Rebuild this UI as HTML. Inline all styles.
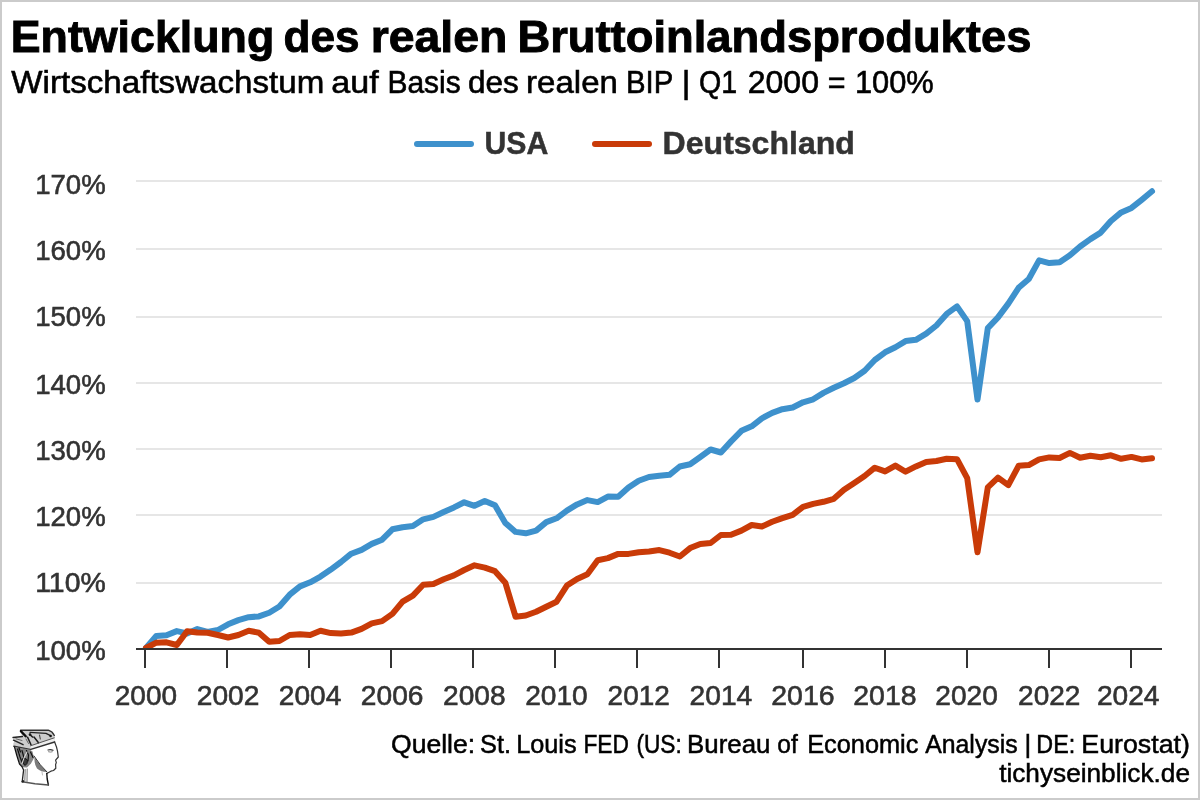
<!DOCTYPE html>
<html><head><meta charset="utf-8"><title>Entwicklung des realen Bruttoinlandsproduktes</title>
<style>
html,body{margin:0;padding:0;background:#fff;width:1200px;height:800px;overflow:hidden}
svg{display:block;will-change:transform}
text{font-family:"Liberation Sans",sans-serif}
.t{font-weight:bold;font-size:44.1px;fill:#000;stroke:#000;stroke-width:0.9px}
.st{font-size:31.7px;fill:#000;stroke:#000;stroke-width:0.6px}
.lg{font-weight:bold;font-size:31.8px;fill:#333;stroke:#333;stroke-width:0.5px}
.ax{font-size:27.7px;fill:#333;stroke:#333;stroke-width:0.6px}
.src{font-size:25.3px;fill:#000;stroke:#000;stroke-width:0.5px}
</style></head><body>
<svg width="1200" height="800" viewBox="0 0 1200 800">
<rect x="0" y="0" width="1200" height="800" fill="#cbcbcb"/>
<rect x="2" y="2" width="1196" height="796" fill="#ffffff"/>
<rect x="136" y="180" width="1026" height="2" fill="#e6e6e6"/>
<rect x="136" y="248" width="1026" height="2" fill="#e6e6e6"/>
<rect x="136" y="316" width="1026" height="2" fill="#e6e6e6"/>
<rect x="136" y="382" width="1026" height="2" fill="#e6e6e6"/>
<rect x="136" y="448" width="1026" height="2" fill="#e6e6e6"/>
<rect x="136" y="514" width="1026" height="2" fill="#e6e6e6"/>
<rect x="136" y="582" width="1026" height="2" fill="#e6e6e6"/>
<defs><clipPath id="pc"><rect x="100" y="100" width="1100" height="548"/></clipPath></defs>
<g clip-path="url(#pc)" fill="none" stroke-width="6" stroke-linejoin="round" stroke-linecap="round">
<polyline stroke="#3e91cc" points="146.0,648.0 156.3,635.9 166.5,635.2 176.8,631.1 187.1,633.4 197.3,629.1 207.6,631.9 217.9,630.0 228.1,624.3 238.4,620.1 248.7,617.2 258.9,616.4 269.2,612.7 279.4,606.5 289.7,594.7 300.0,586.4 310.2,582.3 320.5,576.6 330.8,569.6 341.0,562.0 351.3,553.7 361.6,549.9 371.8,543.9 382.1,539.7 392.4,529.3 402.6,527.2 412.9,526.1 423.2,519.3 433.4,516.9 443.7,512.0 454.0,507.4 464.2,502.3 474.5,505.8 484.8,501.0 495.0,505.3 505.3,523.0 515.6,531.9 525.8,533.3 536.1,530.6 546.3,522.1 556.6,518.3 566.9,510.6 577.1,504.4 587.4,500.1 597.7,502.1 607.9,496.6 618.2,496.8 628.5,487.6 638.7,480.7 649.0,477.0 659.3,475.7 669.5,474.8 679.8,466.5 690.1,464.2 700.3,457.0 710.6,449.5 720.9,452.5 731.1,441.4 741.4,430.8 751.7,426.3 761.9,418.3 772.2,412.8 782.4,409.2 792.7,407.5 803.0,402.3 813.2,399.3 823.5,392.9 833.8,387.8 844.0,383.2 854.3,378.0 864.6,370.7 874.8,360.0 885.1,352.3 895.4,347.2 905.6,341.1 915.9,339.8 926.2,333.7 936.4,325.5 946.7,313.9 957.0,306.4 967.2,321.1 977.5,399.6 987.8,328.1 998.0,317.4 1008.3,303.6 1018.6,287.8 1028.8,279.0 1039.1,260.4 1049.3,263.1 1059.6,262.3 1069.9,255.3 1080.1,246.5 1090.4,239.1 1100.7,232.6 1110.9,221.0 1121.2,212.4 1131.5,207.9 1141.7,199.8 1152.0,191.3"/>
<polyline stroke="#c93b08" points="146.0,648.0 156.3,642.7 166.5,642.3 176.8,645.0 187.1,631.2 197.3,632.5 207.6,632.7 217.9,635.0 228.1,637.5 238.4,635.0 248.7,630.8 258.9,632.7 269.2,641.7 279.4,641.0 289.7,635.0 300.0,634.2 310.2,635.0 320.5,630.8 330.8,633.1 341.0,633.5 351.3,632.6 361.6,628.9 371.8,623.4 382.1,621.1 392.4,613.9 402.6,601.7 412.9,595.6 423.2,584.8 433.4,583.9 443.7,579.2 454.0,575.4 464.2,570.0 474.5,565.3 484.8,567.7 495.0,571.2 505.3,582.7 515.6,616.8 525.8,615.5 536.1,611.8 546.3,606.7 556.6,601.7 566.9,585.6 577.1,578.9 587.4,574.2 597.7,560.2 607.9,558.1 618.2,553.9 628.5,553.9 638.7,552.2 649.0,551.4 659.3,550.1 669.5,552.7 679.8,556.5 690.1,548.1 700.3,543.9 710.6,543.0 720.9,535.0 731.1,534.8 741.4,530.6 751.7,525.0 761.9,526.5 772.2,521.8 782.4,518.1 792.7,514.8 803.0,506.8 813.2,503.9 823.5,501.8 833.8,498.8 844.0,489.8 854.3,483.0 864.6,476.0 874.8,467.7 885.1,471.4 895.4,465.6 905.6,471.7 915.9,466.4 926.2,461.9 936.4,461.0 946.7,458.8 957.0,459.2 967.2,478.2 977.5,552.3 987.8,487.4 998.0,477.6 1008.3,485.2 1018.6,465.8 1028.8,465.1 1039.1,459.4 1049.3,457.4 1059.6,458.0 1069.9,452.9 1080.1,457.8 1090.4,455.8 1100.7,457.2 1110.9,455.3 1121.2,458.8 1131.5,456.9 1141.7,459.4 1152.0,458.3"/>
</g>
<rect x="136" y="648" width="1026" height="2" fill="#333"/>
<rect x="144" y="650" width="2" height="18" fill="#333"/>
<text x="114.79" y="705.3" class="ax" textLength="62.30" lengthAdjust="spacingAndGlyphs">2000</text>
<rect x="226" y="650" width="2" height="18" fill="#333"/>
<text x="196.78" y="705.3" class="ax" textLength="62.63" lengthAdjust="spacingAndGlyphs">2002</text>
<rect x="308" y="650" width="2" height="18" fill="#333"/>
<text x="278.89" y="705.3" class="ax" textLength="62.43" lengthAdjust="spacingAndGlyphs">2004</text>
<rect x="390" y="650" width="2" height="18" fill="#333"/>
<text x="360.89" y="705.3" class="ax" textLength="62.55" lengthAdjust="spacingAndGlyphs">2006</text>
<rect x="472" y="650" width="2" height="18" fill="#333"/>
<text x="443.09" y="705.3" class="ax" textLength="62.54" lengthAdjust="spacingAndGlyphs">2008</text>
<rect x="554" y="650" width="2" height="18" fill="#333"/>
<text x="525.18" y="705.3" class="ax" textLength="62.62" lengthAdjust="spacingAndGlyphs">2010</text>
<rect x="636" y="650" width="2" height="18" fill="#333"/>
<text x="607.59" y="705.3" class="ax" textLength="62.21" lengthAdjust="spacingAndGlyphs">2012</text>
<rect x="718" y="650" width="2" height="18" fill="#333"/>
<text x="689.58" y="705.3" class="ax" textLength="62.64" lengthAdjust="spacingAndGlyphs">2014</text>
<rect x="802" y="650" width="2" height="18" fill="#333"/>
<text x="771.27" y="705.3" class="ax" textLength="63.28" lengthAdjust="spacingAndGlyphs">2016</text>
<rect x="884" y="650" width="2" height="18" fill="#333"/>
<text x="853.27" y="705.3" class="ax" textLength="63.27" lengthAdjust="spacingAndGlyphs">2018</text>
<rect x="966" y="650" width="2" height="18" fill="#333"/>
<text x="935.29" y="705.3" class="ax" textLength="62.51" lengthAdjust="spacingAndGlyphs">2020</text>
<rect x="1048" y="650" width="2" height="18" fill="#333"/>
<text x="1018.09" y="705.3" class="ax" textLength="62.32" lengthAdjust="spacingAndGlyphs">2022</text>
<rect x="1130" y="650" width="2" height="18" fill="#333"/>
<text x="1096.88" y="705.3" class="ax" textLength="62.64" lengthAdjust="spacingAndGlyphs">2024</text>
<text x="35.20" y="193.5" class="ax" textLength="70.48" lengthAdjust="spacingAndGlyphs">170%</text>
<text x="35.20" y="259.5" class="ax" textLength="70.48" lengthAdjust="spacingAndGlyphs">160%</text>
<text x="35.20" y="325.5" class="ax" textLength="70.48" lengthAdjust="spacingAndGlyphs">150%</text>
<text x="35.20" y="393.6" class="ax" textLength="70.48" lengthAdjust="spacingAndGlyphs">140%</text>
<text x="35.20" y="459.5" class="ax" textLength="70.48" lengthAdjust="spacingAndGlyphs">130%</text>
<text x="35.20" y="525.5" class="ax" textLength="70.48" lengthAdjust="spacingAndGlyphs">120%</text>
<text x="35.20" y="591.5" class="ax" textLength="70.48" lengthAdjust="spacingAndGlyphs">110%</text>
<text x="35.20" y="659.5" class="ax" textLength="70.48" lengthAdjust="spacingAndGlyphs">100%</text>
<text x="10.76" y="52.3" class="t" textLength="263.49" lengthAdjust="spacingAndGlyphs">Entwicklung</text>
<text x="283.64" y="52.3" class="t" textLength="76.02" lengthAdjust="spacingAndGlyphs">des</text>
<text x="370.69" y="52.3" class="t" textLength="136.74" lengthAdjust="spacingAndGlyphs">realen</text>
<text x="517.42" y="52.3" class="t" textLength="513.99" lengthAdjust="spacingAndGlyphs">Bruttoinlandsproduktes</text>
<text x="11.35" y="92.6" class="st" textLength="312.93" lengthAdjust="spacingAndGlyphs">Wirtschaftswachstum</text>
<text x="331.25" y="92.6" class="st" textLength="47.40" lengthAdjust="spacingAndGlyphs">auf</text>
<text x="387.44" y="92.6" class="st" textLength="73.34" lengthAdjust="spacingAndGlyphs">Basis</text>
<text x="467.98" y="92.6" class="st" textLength="50.86" lengthAdjust="spacingAndGlyphs">des</text>
<text x="526.11" y="92.6" class="st" textLength="91.73" lengthAdjust="spacingAndGlyphs">realen</text>
<text x="625.89" y="92.6" class="st" textLength="47.36" lengthAdjust="spacingAndGlyphs">BIP</text>
<text x="681.87" y="92.6" class="st" textLength="8.65" lengthAdjust="spacingAndGlyphs">|</text>
<text x="698.95" y="92.6" class="st" textLength="38.15" lengthAdjust="spacingAndGlyphs">Q1</text>
<text x="747.69" y="92.6" class="st" textLength="71.26" lengthAdjust="spacingAndGlyphs">2000</text>
<text x="827.81" y="92.6" class="st" textLength="17.79" lengthAdjust="spacingAndGlyphs">=</text>
<text x="854.95" y="92.6" class="st" textLength="78.85" lengthAdjust="spacingAndGlyphs">100%</text>
<line x1="417" y1="144" x2="471" y2="144" stroke="#3e91cc" stroke-width="6" stroke-linecap="round"/>
<text x="484.43" y="153.65" class="lg" textLength="63.81" lengthAdjust="spacingAndGlyphs">USA</text>
<line x1="595" y1="144" x2="649" y2="144" stroke="#c93b08" stroke-width="6" stroke-linecap="round"/>
<text x="662.61" y="153.65" class="lg" textLength="192.25" lengthAdjust="spacingAndGlyphs">Deutschland</text>
<text x="390.99" y="752.65" class="src" textLength="84.18" lengthAdjust="spacingAndGlyphs">Quelle:</text>
<text x="480.10" y="752.65" class="src" textLength="30.96" lengthAdjust="spacingAndGlyphs">St.</text>
<text x="516.17" y="752.65" class="src" textLength="60.49" lengthAdjust="spacingAndGlyphs">Louis</text>
<text x="583.39" y="752.65" class="src" textLength="45.45" lengthAdjust="spacingAndGlyphs">FED</text>
<text x="636.44" y="752.65" class="src" textLength="45.38" lengthAdjust="spacingAndGlyphs">(US:</text>
<text x="687.13" y="752.65" class="src" textLength="83.34" lengthAdjust="spacingAndGlyphs">Bureau</text>
<text x="777.22" y="752.65" class="src" textLength="20.50" lengthAdjust="spacingAndGlyphs">of</text>
<text x="807.17" y="752.65" class="src" textLength="111.25" lengthAdjust="spacingAndGlyphs">Economic</text>
<text x="925.20" y="752.65" class="src" textLength="92.45" lengthAdjust="spacingAndGlyphs">Analysis</text>
<text x="1024.43" y="752.65" class="src" textLength="6.73" lengthAdjust="spacingAndGlyphs">|</text>
<text x="1036.34" y="752.65" class="src" textLength="38.84" lengthAdjust="spacingAndGlyphs">DE:</text>
<text x="1081.36" y="752.65" class="src" textLength="108.55" lengthAdjust="spacingAndGlyphs">Eurostat)</text>
<text x="999.15" y="781.55" class="src" textLength="190.86" lengthAdjust="spacingAndGlyphs">tichyseinblick.de</text>
<filter id="lb" x="-10%" y="-10%" width="120%" height="120%"><feGaussianBlur stdDeviation="0.3"/></filter>
<g transform="translate(10,726)" filter="url(#lb)" stroke-linejoin="round" stroke-linecap="round" fill="none">
<path d="M4,20 L20,23.5 L44.5,16 L46.5,21 L47.5,25.2 L48.3,31 L45.6,34.2 L46.3,36.6 L45.6,38.5 L45.8,42.3 L43.5,44.5 L40.9,45.2 L36.8,47.5 L37.2,53 L38.4,59 L12.2,55.8 L13.6,44 L10.5,40 L7,32 Z" fill="#fff" stroke="none"/>
<path d="M10.6,4.3 L38.3,4.2 Q42.5,5.5 44.3,9.5 L44.6,15.8 L30,20.5 L20,23.5 L4,20.5 L3.2,18 L4.2,15.5 L3,11.5 L12,10.5 Z" fill="#cdcdcd" stroke="none"/>
<path d="M20.5,19.8 L44.3,12 L44.6,15.8 L30,20.8 L20.5,23.6 Z" fill="#ececec" stroke="none"/>
<path d="M10.6,4.3 L38.3,4.2 Q42.5,5.5 44.3,9.5" stroke="#333" stroke-width="1.4"/>
<path d="M20,6.4 L36,7.4 L40.5,9.6" stroke="#222" stroke-width="1.3"/>
<path d="M10.9,5.2 L15.7,10.3" stroke="#0a0a0a" stroke-width="2.4"/>
<circle cx="20" cy="8.6" r="1.3" fill="#111"/>
<circle cx="40.6" cy="10" r="1.3" fill="#111"/>
<path d="M17.6,11.2 L21,18.7 M24,11 L28.5,16.8 M20,8.6 L22.5,11" stroke="#1a1a1a" stroke-width="1.5"/>
<path d="M29.5,9 L30.3,13" stroke="#444" stroke-width="1.1"/>
<path d="M3,11.5 L12.4,10.5 M3.5,14.2 L13.1,18.7" stroke="#222" stroke-width="1.4"/>
<path d="M6,12.8 L12,14.5 M16,13 L18.5,17.5" stroke="#666" stroke-width="1"/>
<path d="M3.8,20.2 L20,23.6 L44.6,16" stroke="#333" stroke-width="1.5"/>
<path d="M20.5,19.8 L44.3,11.8" stroke="#555" stroke-width="1"/>
<path d="M4.5,21 L7,30.5 L9.8,38 L12.8,41.2 L17,41.5 L21,37.5 L24,32 L22.5,25.5 L19.5,23.5 Z" fill="#858585" stroke="none"/>
<path d="M4.5,21 L6.8,29.5 L9.5,38 L12.4,41.2 M7.5,23 L10,31 L12.2,36.5 M12,24.5 L13.8,31 L12.8,37 M16.5,24.5 L18.5,29 L18,35 M20.5,26 L23,31.5 M9,22 L10.5,26" stroke="#111" stroke-width="1.2"/>
<path d="M12.5,33 Q15,31 17.5,34 Q18,38 15,39.5 Q12,38 12.5,33 Z" fill="#3a3a3a" stroke="#111" stroke-width="0.9"/>
<path d="M17,26 Q14,31 12,37.6" stroke="#e0e0e0" stroke-width="1.1"/>
<path d="M44.6,16 L46.5,21 L47.5,25.2 L48.3,31 L45.6,34.2 L46.3,36.6 L45.6,38.5 L45.8,42.3 L43.5,44.5 L40.9,45.2 L36.8,47.5" stroke="#333" stroke-width="1.2"/>
<path d="M24.5,31 Q30,40 37,46 Q31,46 27,42.5 Q24,38 24.5,31 Z" fill="#7a7a7a" stroke="none"/>
<path d="M24,30 Q30,39.5 37,46" stroke="#333" stroke-width="1"/>
<path d="M38,24 Q40.5,23 43,24.3" stroke="#333" stroke-width="1.2"/>
<path d="M38.5,25.8 Q40.5,26.5 42.3,25.8" stroke="#777" stroke-width="0.9"/>
<path d="M36.8,47.5 L37.2,53 L38.4,59" stroke="#111" stroke-width="1.4"/>
<path d="M38.4,59 L25,57.8 L12.2,55.8" stroke="#555" stroke-width="1.5"/>
<path d="M12.2,55.8 L13.6,44 L12.4,41.5" stroke="#222" stroke-width="1.3"/>
<circle cx="13" cy="55.3" r="1.2" fill="#222"/>
<path d="M15.2,43.5 L14.8,55 M17.2,43 L17,55.5" stroke="#777" stroke-width="1"/>
<path d="M32,46 L32.5,49" stroke="#aaa" stroke-width="0.8"/>
</g>

</svg>
</body></html>
